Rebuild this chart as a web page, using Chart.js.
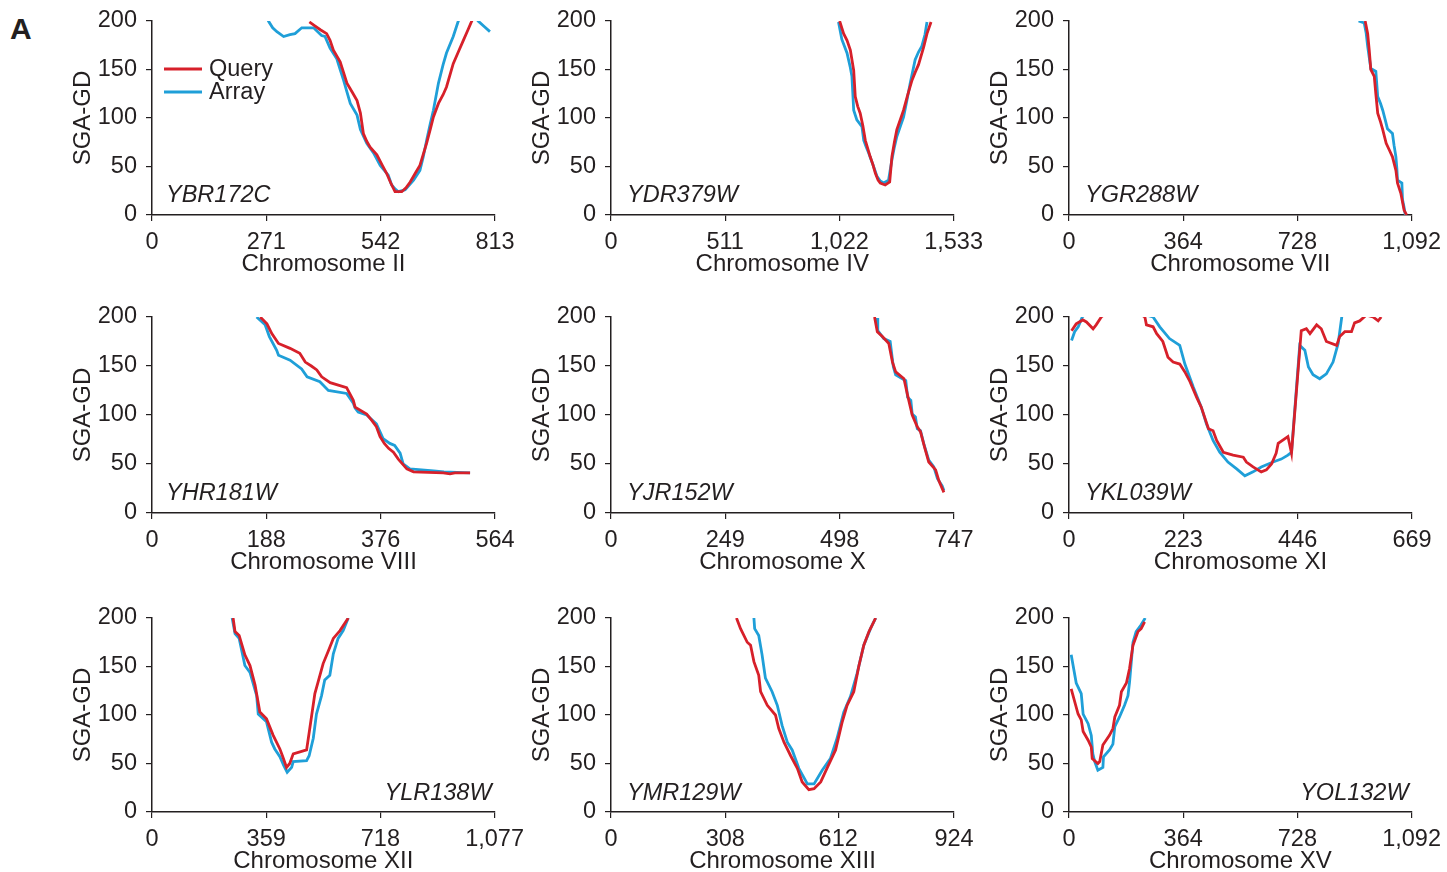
<!DOCTYPE html>
<html>
<head>
<meta charset="utf-8">
<script src="https://cdn.jsdelivr.net/npm/chart.js@4"></script>
<style>
  html, body { margin: 0; padding: 0; background: #fff; width: 1447px; height: 872px; overflow: hidden; }
  body { position: relative; font-family: "Liberation Sans", Arial, Helvetica, sans-serif; color: #231f20; }
  canvas { position: absolute; }
  #panelA { position: absolute; left: 10px; top: 12px; font-weight: bold; font-size: 30px; line-height: 34px; }
</style>
</head>
<body>
<div id="panelA">A</div>
<script>
// ---------- DATA ----------
const chromosomes = ['II', 'IV', 'VII', 'VIII', 'X', 'XI', 'XII', 'XIII', 'XV'];
const genes = ['YBR172C', 'YDR379W', 'YGR288W', 'YHR181W', 'YJR152W', 'YKL039W', 'YLR138W', 'YMR129W', 'YOL132W'];
const seriesLabels = ['Query', 'Array'];
const yTicks = [0, 50, 100, 150, 200];

const xTicksII = [0, 271, 542, 813];
const xTicksIV = [0, 511, 1022, 1533];
const xTicksVII = [0, 364, 728, 1092];
const xTicksVIII = [0, 188, 376, 564];
const xTicksX = [0, 249, 498, 747];
const xTicksXI = [0, 223, 446, 669];
const xTicksXII = [0, 359, 718, 1077];
const xTicksXIII = [0, 308, 612, 924];
const xTicksXV = [0, 364, 728, 1092];

// Chromosome II (YBR172C)
const queryII = [[373,199],[386,195],[399,191],[414,187],[422,180],[430,170],[446,158],[454,147],[462,136],[474,127],[486,118],[494,105],[501,84],[509,76],[517,70],[533,62],[545,52],[556,43],[566,33],[576,24],[592,24],[602,28],[612,34],[624,43],[635,51],[651,74],[660,89],[667,101],[679,115],[690,124],[698,132],[714,156],[726,168],[738,180],[748,190],[758,200],[770,212]];
const arrayII = [[265,212],[276,200],[286,193],[296,189],[312,184],[327,186],[339,187],[355,193],[383,193],[402,185],[410,184],[422,172],[438,161],[446,150],[454,139],[462,127],[470,115],[486,103],[494,88],[509,74],[525,64],[541,51],[560,41],[568,31],[576,27],[584,24],[600,26],[620,36],[635,46],[643,60],[651,77],[659,93],[667,108],[679,136],[690,155],[698,167],[714,184],[726,200],[750,215],[773,200],[788,194],[801,189]];

// Chromosome IV (YDR379W)
const queryIV = [[1023,200],[1041,187],[1056,180],[1071,170],[1086,149],[1093,122],[1104,112],[1115,105],[1127,92],[1138,77],[1160,60],[1172,52],[1183,43],[1195,36],[1205,33],[1227,31],[1247,34],[1257,60],[1268,75],[1279,88],[1294,98],[1309,108],[1328,124],[1347,139],[1361,147],[1376,155],[1399,173],[1414,187],[1432,199]];
const arrayIV = [[1018,199],[1033,181],[1056,167],[1070,153],[1078,143],[1086,108],[1100,98],[1123,91],[1131,77],[1142,70],[1153,64],[1175,50],[1190,40],[1205,35],[1220,33],[1242,36],[1257,57],[1268,70],[1279,81],[1294,91],[1309,101],[1324,118],[1339,136],[1361,160],[1376,168],[1391,174],[1405,186],[1414,199]];

// Chromosome VII (YGR288W)
const queryVII = [[944,200],[952,187],[957,170],[962,150],[973,143],[978,125],[984,105],[993,96],[1000,88],[1011,74],[1021,67],[1031,60],[1042,46],[1047,33],[1058,22],[1068,5],[1076,0]];
const arrayVII = [[923,200],[941,198],[947,188],[952,174],[962,151],[978,148],[984,122],[993,115],[1000,108],[1008,98],[1015,89],[1031,84],[1036,72],[1042,60],[1045,48],[1047,36],[1061,33],[1063,16],[1068,8],[1072,0]];

// Chromosome VIII (YHR181W)
const queryVIII = [[178,200],[189,193],[197,183],[208,173],[227,168],[243,163],[252,154],[262,150],[271,146],[279,139],[293,133],[320,128],[331,115],[334,108],[353,101],[362,94],[369,88],[375,78],[382,71],[389,66],[397,62],[405,55],[419,45],[430,42],[479,41],[490,40],[498,41],[523,41]];
const arrayVIII = [[172,200],[186,192],[193,180],[205,166],[208,161],[227,156],[246,147],[255,139],[276,134],[290,125],[320,122],[331,112],[334,107],[339,103],[353,100],[369,91],[380,76],[391,71],[399,69],[408,61],[413,50],[424,45],[463,43],[480,42],[523,41]];

// Chromosome X (YJR152W)
const queryX = [[574,200],[580,185],[591,180],[605,173],[613,154],[620,144],[638,137],[646,120],[656,100],[667,88],[674,83],[683,67],[692,52],[707,44],[714,33],[725,21]];
const arrayX = [[580,199],[581,186],[594,178],[608,175],[613,156],[615,149],[620,141],[642,135],[646,118],[653,115],[656,101],[663,98],[667,86],[674,84],[681,71],[692,54],[703,47],[711,35],[721,28],[725,23]];

// Chromosome XI (YKL039W)
const queryXI = [[5,186],[14,193],[27,197],[34,195],[47,188],[53,192],[63,200],[100,216],[148,200],[151,192],[164,190],[171,183],[183,175],[193,159],[203,154],[216,152],[226,144],[236,134],[249,118],[258,108],[272,86],[281,84],[288,74],[301,62],[320,59],[340,57],[346,52],[359,47],[375,42],[385,44],[395,50],[404,61],[408,71],[427,78],[434,61],[453,186],[463,188],[470,183],[483,192],[492,188],[502,175],[522,171],[528,180],[538,185],[551,185],[557,194],[567,196],[580,202],[593,200],[603,196],[609,200]];
const arrayXI = [[5,176],[11,185],[18,190],[26,200],[60,216],[164,200],[177,190],[196,178],[216,171],[226,152],[242,129],[258,108],[268,91],[281,74],[294,62],[310,52],[327,45],[343,38],[359,42],[375,47],[398,52],[414,55],[427,59],[434,62],[450,171],[460,166],[467,149],[476,141],[489,137],[502,142],[515,154],[525,173],[532,200],[540,215]];

// Chromosome XII (YLR138W)
const queryXII = [[255,200],[261,186],[274,182],[292,162],[308,151],[324,131],[339,103],[360,96],[381,79],[402,65],[410,58],[423,46],[433,50],[444,60],[486,64],[496,86],[512,122],[522,134],[538,153],[553,165],[570,179],[591,187],[617,200]];
const arrayXII = [[252,200],[261,184],[274,179],[292,151],[308,144],[329,120],[334,101],[360,93],[376,72],[386,65],[402,57],[414,48],[425,41],[439,46],[444,52],[486,53],[494,58],[507,76],[517,101],[533,120],[543,136],[559,141],[570,163],[585,179],[601,187],[617,200]];

// Chromosome XIII (YMR129W)
const queryXIII = [[338,200],[349,189],[367,175],[376,172],[385,155],[398,141],[403,124],[421,110],[443,100],[452,86],[466,72],[484,58],[502,45],[515,31],[533,23],[547,24],[565,31],[583,46],[605,64],[623,93],[636,110],[654,124],[668,151],[681,172],[695,186],[713,200]];
const arrayXIII = [[385,200],[387,189],[398,182],[407,162],[416,138],[434,124],[448,110],[461,89],[475,72],[488,64],[506,45],[529,29],[547,29],[569,43],[591,55],[609,76],[627,103],[645,119],[663,143],[681,172],[699,189],[713,200]];

// Chromosome XV (YOL132W)
const queryXV = [[7,127],[29,101],[39,95],[45,83],[61,74],[71,67],[74,55],[92,50],[98,52],[108,69],[129,79],[140,86],[146,98],[161,110],[167,124],[183,133],[193,148],[204,172],[220,186],[230,189],[241,196]];
const arrayXV = [[7,162],[23,133],[39,122],[45,101],[61,91],[71,79],[76,60],[82,52],[92,43],[108,46],[110,57],[129,64],[140,70],[146,88],[161,98],[177,110],[188,120],[193,134],[204,175],[214,186],[230,193],[243,200]];

// ---------- PANEL SET-UP ----------
const xTicksList = [xTicksII, xTicksIV, xTicksVII, xTicksVIII, xTicksX, xTicksXI, xTicksXII, xTicksXIII, xTicksXV];
const queryList = [queryII, queryIV, queryVII, queryVIII, queryX, queryXI, queryXII, queryXIII, queryXV];
const arrayList = [arrayII, arrayIV, arrayVII, arrayVIII, arrayX, arrayXI, arrayXII, arrayXIII, arrayXV];

const RED = '#d7202a';
const BLUE = '#1f9fd8';
const INK = '#231f20';
const FONT = '"Liberation Sans", Arial, Helvetica, sans-serif';

Chart.defaults.font.family = FONT;
Chart.defaults.font.size = 23.5;
Chart.defaults.color = INK;

const colLeft = [152, 611, 1069];
const rowTop = [21, 317, 618];
const rowBottom = [215, 513, 812];
const AXIS_W = 100, PAD_TOP = 25, PAD_RIGHT = 36, PLOT_W = 343, XAXIS_H = 64;

const panelText = {
  id: 'panelText',
  afterDraw(chart, args, opts) {
    const { ctx, chartArea } = chart;
    ctx.save();
    ctx.fillStyle = INK;
    ctx.textBaseline = 'middle';
    ctx.font = 'italic 23.5px ' + FONT;
    const gy = chartArea.bottom - opts.geneOffsetY;
    if (opts.geneAlign === 'right') {
      ctx.textAlign = 'right';
      ctx.fillText(opts.gene, chartArea.right - 3, gy);
    } else {
      ctx.textAlign = 'left';
      ctx.fillText(opts.gene, chartArea.left + opts.geneOffsetX, gy);
    }
    if (opts.legend) {
      ctx.font = '23.5px ' + FONT;
      ctx.textAlign = 'left';
      chart.data.datasets.forEach((ds, i) => {
        const y = chartArea.top + 48 + i * 23;
        ctx.strokeStyle = ds.borderColor;
        ctx.lineWidth = 3;
        ctx.beginPath();
        ctx.moveTo(chartArea.left + 12, y);
        ctx.lineTo(chartArea.left + 50, y);
        ctx.stroke();
        ctx.fillText(ds.label, chartArea.left + 57, y + 1);
      });
    }
    ctx.restore();
  }
};

for (let i = 0; i < 9; i++) {
  const row = Math.floor(i / 3), col = i % 3;
  const plotH = rowBottom[row] - rowTop[row];
  const cv = document.createElement('canvas');
  const W = AXIS_W + PLOT_W + PAD_RIGHT;
  const H = PAD_TOP + plotH + XAXIS_H;
  cv.width = W; cv.height = H;
  cv.style.width = W + 'px'; cv.style.height = H + 'px';
  cv.style.left = (colLeft[col] - AXIS_W) + 'px';
  cv.style.top = (rowTop[row] - PAD_TOP) + 'px';
  document.body.appendChild(cv);

  const xt = xTicksList[i];
  new Chart(cv, {
    type: 'line',
    data: {
      datasets: [
        { label: seriesLabels[0], data: queryList[i], borderColor: RED, borderWidth: 2.8, pointRadius: 0, tension: 0, fill: false },
        { label: seriesLabels[1], data: arrayList[i], borderColor: BLUE, borderWidth: 2.8, pointRadius: 0, tension: 0, fill: false }
      ]
    },
    options: {
      responsive: false,
      animation: false,
      events: [],
      layout: { padding: { left: 0, top: PAD_TOP, right: PAD_RIGHT, bottom: 0 } },
      plugins: {
        legend: { display: false },
        tooltip: { enabled: false },
        panelText: {
          gene: genes[i],
          geneAlign: (row === 2 && col !== 1) ? 'right' : 'left',
          geneOffsetX: col === 0 ? 14 : 16,
          geneOffsetY: row === 2 ? 19 : 20,
          legend: i === 0
        }
      },
      scales: {
        x: {
          type: 'linear',
          min: xt[0],
          max: xt[xt.length - 1],
          afterBuildTicks: (s) => { s.ticks = xt.map(v => ({ value: v })); },
          afterFit: (s) => { s.height = XAXIS_H; },
          ticks: {
            autoSkip: false, maxRotation: 0, padding: 7,
            callback: (v) => Number(v).toLocaleString('en-US')
          },
          grid: { display: true, drawOnChartArea: false, drawTicks: true, tickLength: 6, color: INK, lineWidth: 1.2 },
          border: { display: true, color: INK, width: 1.5 },
          title: { display: true, text: 'Chromosome ' + chromosomes[i], font: { size: 24 }, padding: { top: 0, bottom: 0 } }
        },
        y: {
          type: 'linear',
          min: 0, max: 200,
          afterBuildTicks: (s) => { s.ticks = yTicks.map(v => ({ value: v })); },
          afterFit: (s) => { s.width = AXIS_W; },
          ticks: { padding: 9 },
          grid: { display: true, drawOnChartArea: false, drawTicks: true, tickLength: 6, color: INK, lineWidth: 1.2 },
          border: { display: true, color: INK, width: 1.5 },
          title: { display: true, text: 'SGA-GD', font: { size: 24 }, padding: { top: 17, bottom: 0 } }
        }
      }
    },
    plugins: [panelText]
  });
}
</script>
</body>
</html>
